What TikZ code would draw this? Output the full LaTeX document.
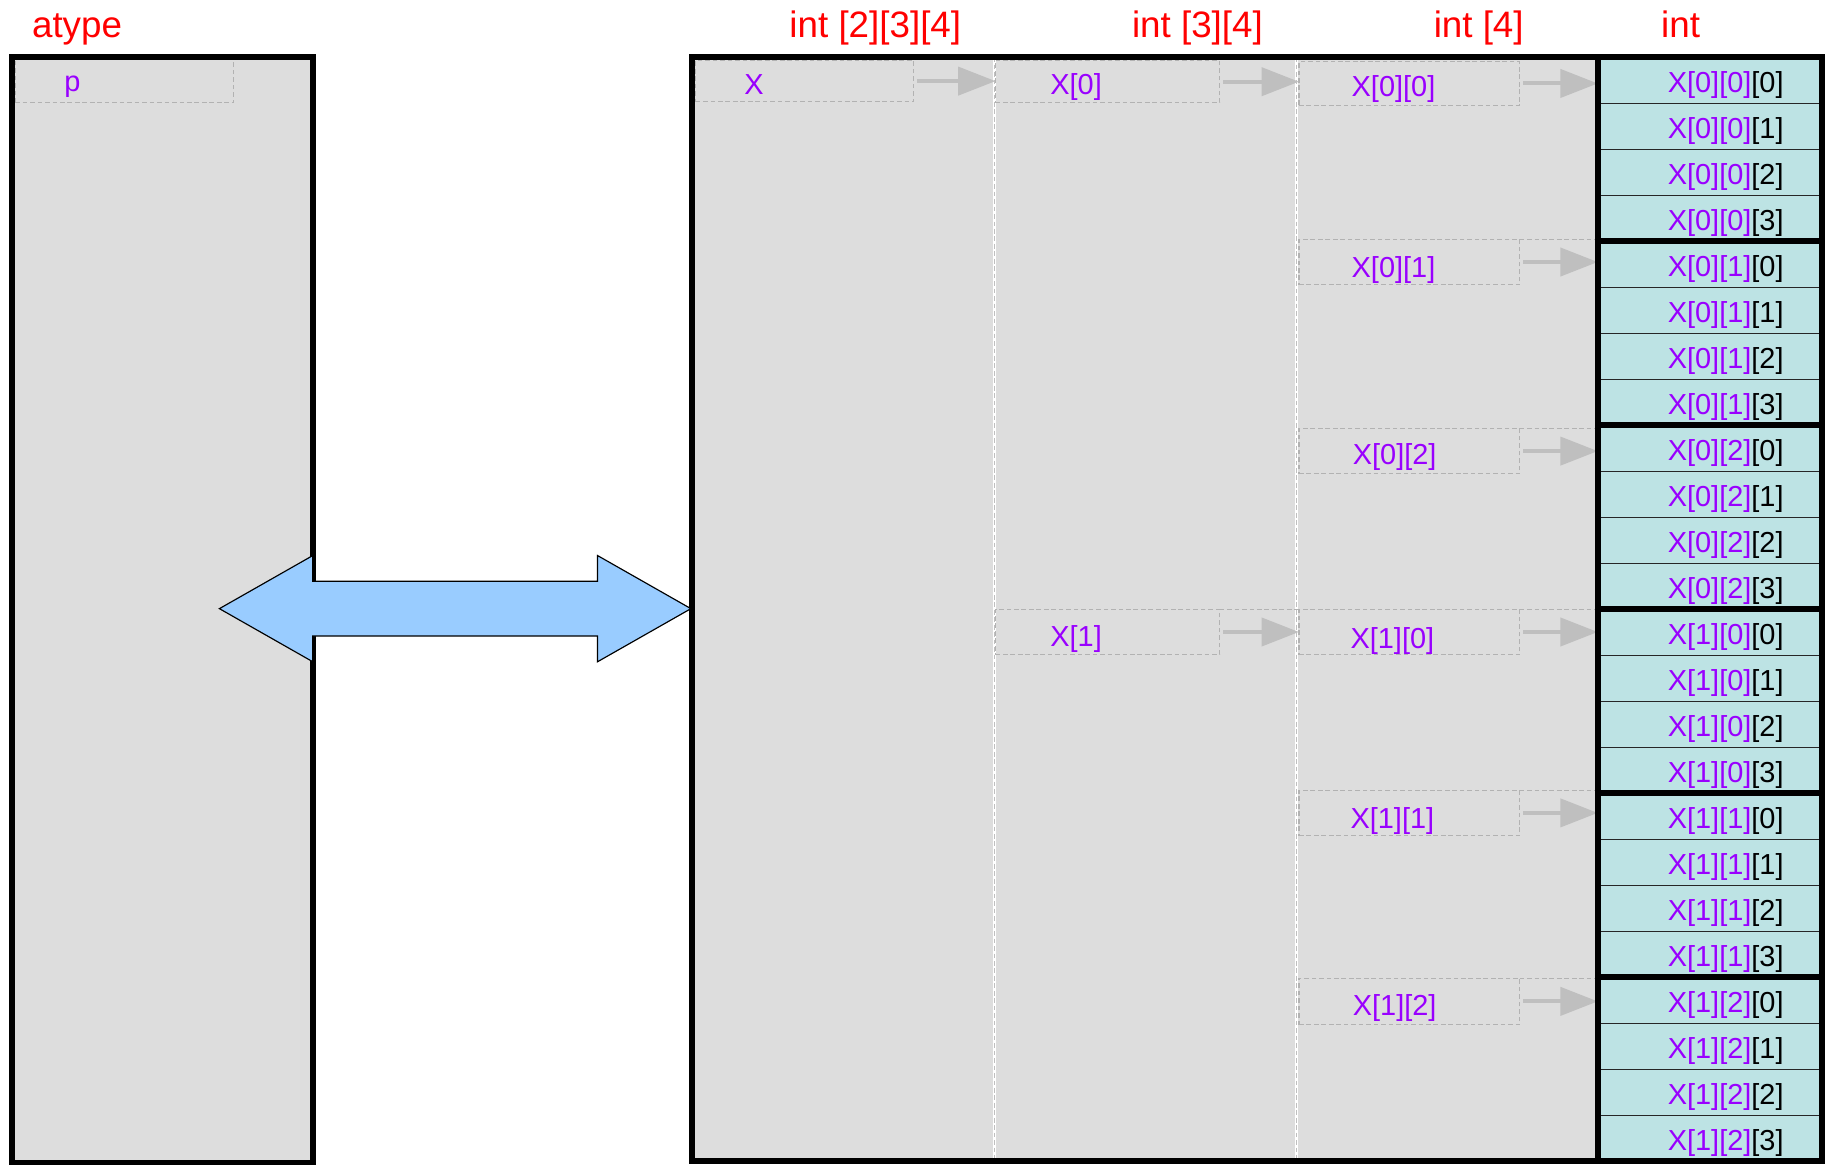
\documentclass[tikz,border=0pt]{standalone}
\usepackage{fontspec}
\setmainfont{Liberation Sans}
\usetikzlibrary{arrows.meta}
\definecolor{purp}{HTML}{9900FF}
\definecolor{bgg}{HTML}{DDDDDD}
\definecolor{cyanc}{HTML}{BDE3E4}
\definecolor{arrg}{HTML}{BFBFBF}
\definecolor{dblblue}{HTML}{99CCFF}
\definecolor{hred}{HTML}{FF0000}
\begin{document}
\begin{tikzpicture}[x=0.5pt,y=-0.5pt,
  hdr/.style={text=hred, font=\fontsize{15.75}{18}\selectfont, inner sep=0pt, anchor=base},
  lbl/.style={text=purp, font=\fontsize{12.4}{14}\selectfont, inner sep=0pt, anchor=base},
  container/.style={draw=black, line width=2.6pt, fill=bgg, inner sep=0pt, outer sep=0pt, anchor=north west},
  dbox/.style={draw=black!30, dash pattern=on 2pt off 1.2pt, line width=0.45pt, inner sep=0pt, outer sep=0pt, anchor=north west},
  dline/.style={draw=black!30, dash pattern=on 2pt off 1.2pt, line width=0.45pt},
  cell/.style={draw=black!85, line width=0.6pt, fill=cyanc, inner sep=0pt, outer sep=0pt, minimum width=96pt, minimum height=19.708pt, anchor=north west},
  grp/.style={draw=black, line width=2.5pt},
  garrow/.style={draw=arrg, line width=1.7pt, -{Triangle[length=16pt,width=12pt]}, shorten <=1.5pt},
  divw/.style={draw=white, line width=1pt},
  divg/.style={draw=black!25, dash pattern=on 2pt off 1.2pt, line width=0.4pt},
  dbl/.style={fill=dblblue, draw=black, line width=0.5pt}
]
\useasboundingbox (0,0) rectangle (1568,998);

% headers
\node[hdr] (hatype) at (66,32) {atype};
\node[hdr] (h234) at (750,32) {int [2][3][4]};
\node[hdr] (h34) at (1026,32) {int [3][4]};
\node[hdr] (h4) at (1267,32) {int [4]};
\node[hdr] (hint) at (1440,32) {int};

% left box
\node[container, minimum width=129pt, minimum height=473.8pt] (leftbox) at (10,49) {};
\node[dbox, minimum width=93.5pt, minimum height=19.5pt] (bp) at (13,49) {};
\draw[container, fill=none] (leftbox.north west) rectangle (leftbox.south east);
\node[lbl] (tp) at (62,78) {p};

% main box
\node[container, minimum width=388pt, minimum height=473pt] (mainbox) at (593,49) {};
\draw[divw] (852,49) -- (852,995);
\draw[divg] (852,49) -- (852,995);
\draw[divw] (1111,49) -- (1111,995);
\draw[divg] (1111,49) -- (1111,995);

% dashed label boxes
\node[dbox, minimum width=93.5pt, minimum height=17.5pt] (bX) at (596,52) {};
\node[dbox, minimum width=96pt, minimum height=18pt] (bX0) at (853,52) {};
\node[dbox, minimum width=96pt, minimum height=19.5pt] (bX1) at (853,522) {};
\node[dbox, minimum width=94.5pt, minimum height=18.5pt] (bX00) at (1113,53) {};
\node[dbox, minimum width=94.5pt, minimum height=19.5pt] (bX01) at (1113,205) {};
\node[dbox, minimum width=94.5pt, minimum height=19.5pt] (bX02) at (1113,367) {};
\node[dbox, minimum width=94.5pt, minimum height=19.5pt] (bX10) at (1113,522) {};
\node[dbox, minimum width=94.5pt, minimum height=19.5pt] (bX11) at (1113,677) {};
\node[dbox, minimum width=94.5pt, minimum height=20pt] (bX12) at (1113,838) {};

\node[lbl] (tX) at (646,81) {X};
\node[lbl] (tX0) at (922,81) {X[0]};
\node[lbl] (tX1) at (922,554) {X[1]};
\node[lbl] (tX00) at (1194,83) {X[0][0]};
\node[lbl] (tX01) at (1194,238) {X[0][1]};
\node[lbl] (tX02) at (1195,398) {X[0][2]};
\node[lbl] (tX10) at (1193,556) {X[1][0]};
\node[lbl] (tX11) at (1193,710) {X[1][1]};
\node[lbl] (tX12) at (1195,870) {X[1][2]};

% int cells
\foreach \i in {0,...,23} {
  \pgfmathtruncatemacro\a{\i/12}
  \pgfmathtruncatemacro\b{mod(int(\i/4),3)}
  \pgfmathtruncatemacro\c{mod(\i,4)}
  \node[cell] (c\i) at (1369, {49+39.4167*\i}) {};
  \node[lbl, text=black] (t\i) at ([xshift=6.8pt, yshift=-5.3pt]c\i.center) {\textcolor{purp}{X[\a][\b]}[\c]};
}

% extended top lines of row regions
\draw[dline] (bX01.north east) -- (bX01.north east -| c0.west);
\draw[dline] (bX02.north east) -- (bX02.north east -| c0.west);
\draw[dline] (bX10.north east) -- (bX10.north east -| c0.west);
\draw[dline] (bX11.north east) -- (bX11.north east -| c0.west);
\draw[dline] (bX12.north east) -- (bX12.north east -| c0.west);
\draw[dline] (bX1.north east) -- (bX1.north east -| bX10.west);

% arrows
\draw[garrow] (bX.east) -- (bX.east -| bX0.west);
\draw[garrow] (bX0.east) -- (bX0.east -| bX00.west);
\draw[garrow] (bX00.east) -- (bX00.east -| c0.west);
\draw[garrow] (bX01.east) -- (bX01.east -| c4.west);
\draw[garrow] (bX02.east) -- (bX02.east -| c8.west);
\draw[garrow] (bX1.east) -- (bX1.east -| bX10.west);
\draw[garrow] (bX10.east) -- (bX10.east -| c12.west);
\draw[garrow] (bX11.east) -- (bX11.east -| c16.west);
\draw[garrow] (bX12.east) -- (bX12.east -| c20.west);

% group borders
\foreach \g in {0,...,5} {
  \pgfmathtruncatemacro\s{4*\g}
  \pgfmathtruncatemacro\e{4*\g+3}
  \draw[grp] (c\s.north west) rectangle (c\e.south east);
}
\draw[line width=2.6pt] (mainbox.north west) rectangle (mainbox.south east);

% double arrow
\draw[dbl] (188,521.5) -- (268,476) -- (268,498) -- (512,498) -- (512,476) -- (592,521.5)
  -- (512,567) -- (512,545) -- (268,545) -- (268,567) -- cycle;
\end{tikzpicture}
\end{document}
